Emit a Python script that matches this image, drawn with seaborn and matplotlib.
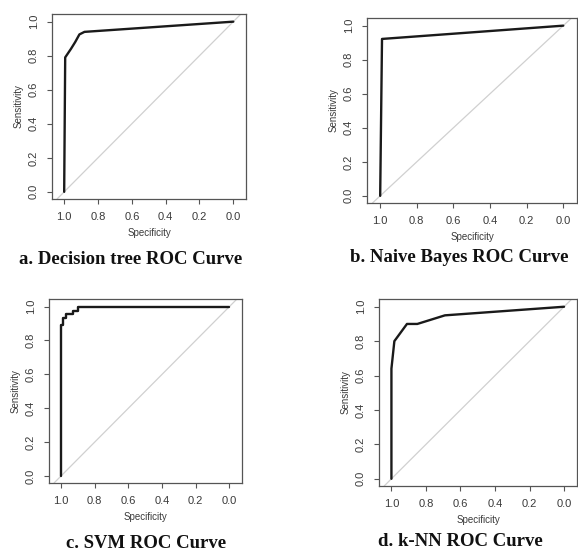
import numpy as np
import pandas as pd
import matplotlib
matplotlib.use("Agg")
import matplotlib.pyplot as plt
import seaborn as sns

# ROC curve vertices (specificity, sensitivity)
dt_spec = [1.0, 0.994, 0.96, 0.935, 0.91, 0.88, 0.0]
dt_sens = [0.0, 0.79, 0.84, 0.88, 0.925, 0.94, 1.0]

nb_spec = [1.0, 0.99, 0.0]
nb_sens = [0.0, 0.922, 1.0]

svm_spec = [1.0, 1.0, 0.988, 0.988, 0.972, 0.972, 0.93, 0.93, 0.90, 0.90, 0.0]
svm_sens = [0.0, 0.89, 0.89, 0.93, 0.93, 0.955, 0.955, 0.976, 0.976, 1.0, 1.0]

knn_spec = [1.0, 1.0, 0.983, 0.91, 0.85, 0.69, 0.0]
knn_sens = [0.0, 0.64, 0.80, 0.90, 0.90, 0.95, 1.0]

captions = ["a. Decision tree ROC Curve", "b. Naive Bayes ROC Curve",
            "c. SVM ROC Curve", "d. k-NN ROC Curve"]
ticks = [0.0, 0.2, 0.4, 0.6, 0.8, 1.0]

W, H = 578, 551
sns.set_style("white")
plt.rcParams["font.family"] = ["Liberation Sans", "DejaVu Sans"]

fig = plt.figure(figsize=(W / 100, H / 100), dpi=100)

# axes boxes in pixels: left, top, right, bottom
boxes = [(52, 14, 246, 199), (367, 18, 577, 203),
         (49, 299, 242, 483), (379, 299, 577, 486)]
cap_pos = [(131, 259), (459, 258), (146, 543), (460, 542)]
curves = [(dt_spec, dt_sens), (nb_spec, nb_sens),
          (svm_spec, svm_sens), (knn_spec, knn_sens)]

box_col = "#555555"
for (l, t, r, b), (spec, sens), cap, (cx, cy) in zip(boxes, curves, captions, cap_pos):
    ax = fig.add_axes([l / W, 1 - b / H, (r - l) / W, (b - t) / H])
    ax.axline((1, 0), (0, 1), color="#d0d0d0", lw=0.9, zorder=1)
    df = pd.DataFrame({"Specificity": spec, "Sensitivity": sens})
    sns.lineplot(data=df, x="Specificity", y="Sensitivity", sort=False,
                 estimator=None, color="#1a1a1a", lw=1.7, ax=ax, zorder=3)
    ax.set_xlim(1.072, -0.075)
    ax.set_ylim(-0.042, 1.045)
    ax.set_xticks(ticks)
    ax.set_yticks(ticks)
    ax.set_xticklabels([f"{v:.1f}" for v in ticks])
    ax.set_yticklabels([f"{v:.1f}" for v in ticks], rotation=90, va="center")
    for s in ax.spines.values():
        s.set_color(box_col)
        s.set_linewidth(0.9)
    ax.tick_params(axis="both", direction="out", length=3.5, width=0.8,
                   color=box_col, labelcolor="#3a3a3a", labelsize=8, pad=6,
                   bottom=True, left=True)
    ax.set_xlabel("Specificity", fontsize=7, color="#3a3a3a", labelpad=4)
    ax.set_ylabel("Sensitivity", fontsize=7, color="#3a3a3a", labelpad=4)
    fig.text(cx / W, 1 - cy / H, cap, ha="center", va="center",
             fontsize=13.5, fontweight="bold", family="Liberation Serif",
             color="#111111")

fig.savefig("out.png", dpi=100)
